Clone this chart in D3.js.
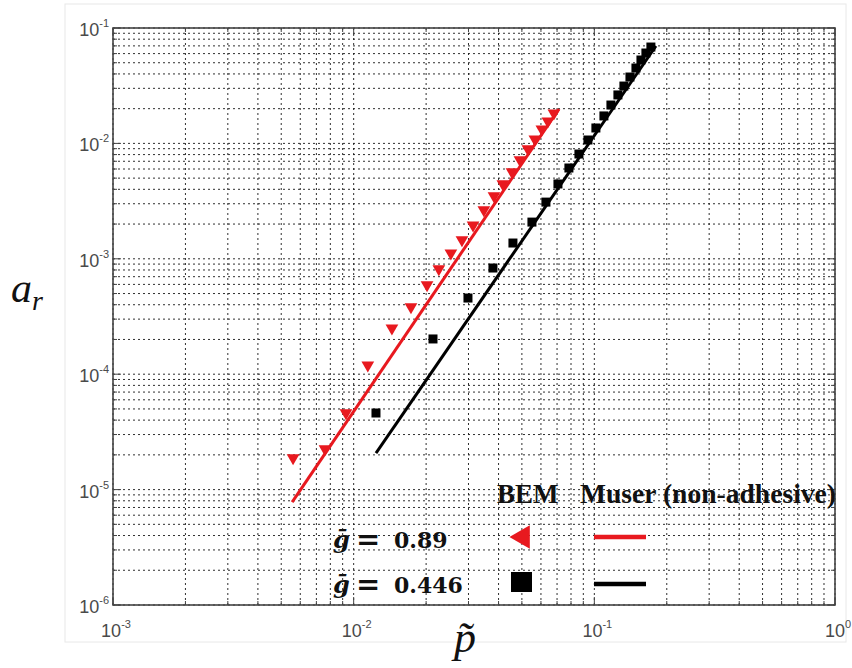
<!DOCTYPE html>
<html><head><meta charset="utf-8">
<script src="https://cdn.jsdelivr.net/npm/d3@7"></script>
<style>body{margin:0;background:#fff}svg{display:block}</style>
</head><body><svg id="c" width="852" height="668"></svg>
<script>
// ---- data ----
const xDomain = [1e-3, 1];
const yDomain = [1e-6, 1e-1];
const xTickExps = [-3, -2, -1, 0];
const yTickExps = [-6, -5, -4, -3, -2, -1];

// BEM, g = 0.89 (red triangles)
const bemRedX = [0.0056, 0.0076, 0.00929, 0.01145, 0.01442, 0.0173, 0.02018, 0.02259, 0.02535, 0.02818, 0.03134, 0.03475, 0.03828, 0.04167, 0.0455, 0.04909, 0.05297, 0.05662, 0.06053, 0.06412, 0.06792];
const bemRedY = [1.88e-5, 2.25e-5, 4.61e-5, 1.20e-4, 2.51e-4, 3.82e-4, 5.93e-4, 8.16e-4, 1.12e-3, 1.46e-3, 1.96e-3, 2.65e-3, 3.50e-3, 4.45e-3, 5.65e-3, 7.18e-3, 8.94e-3, 1.09e-2, 1.33e-2, 1.56e-2, 1.83e-2];
// BEM, g = 0.446 (black squares)
const bemBlackX = [0.01238, 0.02136, 0.02985, 0.03791, 0.0459, 0.05505, 0.06293, 0.0706, 0.07841, 0.0863, 0.09406, 0.1015, 0.1096, 0.1172, 0.1253, 0.1327, 0.1406, 0.1489, 0.1562, 0.1638, 0.1718];
const bemBlackY = [4.61e-5, 2.02e-4, 4.57e-4, 8.32e-4, 1.37e-3, 2.08e-3, 3.10e-3, 4.45e-3, 6.12e-3, 8.09e-3, 1.07e-2, 1.36e-2, 1.73e-2, 2.15e-2, 2.63e-2, 3.14e-2, 3.76e-2, 4.50e-2, 5.28e-2, 6.07e-2, 6.84e-2];
// Muser (non-adhesive) lines
const muserRedX = [0.00555, 0.0713];
const muserRedY = [7.8e-6, 0.01986];
const muserBlackX = [0.01238, 0.1803];
const muserBlackY = [2.07e-5, 0.0698];

const legendCols = ["BEM", "Muser (non-adhesive)"];
const legendRows = [{label: "0.89", color: "#e8191f", marker: "triangle"}, {label: "0.446", color: "#000000", marker: "square"}];

// ---- drawing ----
const svg = d3.select("#c");
const L = 113, R = 835, T = 28, B = 605;
const x = d3.scaleLog().domain(xDomain).range([L, R]);
const y = d3.scaleLog().domain(yDomain).range([B, T]);

// faint outer frame
svg.append("rect").attr("x", 65).attr("y", 4).attr("width", 781).attr("height", 638)
  .attr("fill", "none").attr("stroke", "#e8e8e8").attr("stroke-width", 1);

const g = svg.append("g");
const xt = x.ticks(), yt = y.ticks();
// grid
g.selectAll(".gx").data(xt).join("line")
  .attr("x1", d => x(d)).attr("x2", d => x(d)).attr("y1", T).attr("y2", B)
  .attr("stroke", "#1a1a1a").attr("stroke-width", 1).attr("stroke-dasharray", "2,3").attr("opacity", 0.9);
g.selectAll(".gy").data(yt).join("line")
  .attr("y1", d => y(d)).attr("y2", d => y(d)).attr("x1", L).attr("x2", R)
  .attr("stroke", "#1a1a1a").attr("stroke-width", 1).attr("stroke-dasharray", "2,3").attr("opacity", 0.9);

// axes with inward ticks
const isMajor = d => Math.abs(Math.log10(d) - Math.round(Math.log10(d))) < 1e-9;
const tickLen = d => isMajor(d) ? 8 : 4;
const ax = svg.append("g").attr("stroke", "#444").attr("stroke-width", 1);
xt.forEach(d => {
  ax.append("line").attr("x1", x(d)).attr("x2", x(d)).attr("y1", B).attr("y2", B - tickLen(d));
  ax.append("line").attr("x1", x(d)).attr("x2", x(d)).attr("y1", T).attr("y2", T + tickLen(d));
});
yt.forEach(d => {
  ax.append("line").attr("y1", y(d)).attr("y2", y(d)).attr("x1", L).attr("x2", L + tickLen(d));
  ax.append("line").attr("y1", y(d)).attr("y2", y(d)).attr("x1", R).attr("x2", R - tickLen(d));
});
svg.append("rect").attr("x", L).attr("y", T).attr("width", R - L).attr("height", B - T)
  .attr("fill", "none").attr("stroke", "#444").attr("stroke-width", 1.6);

// tick labels
const tf = "'Liberation Sans', Arial, sans-serif";
xTickExps.forEach(e => {
  const t = svg.append("text").attr("x", x(Math.pow(10, e)) + 3).attr("y", 637)
    .attr("text-anchor", "middle").attr("font-family", tf).attr("font-size", 18).attr("fill", "#4a4a4a");
  t.append("tspan").text("10");
  t.append("tspan").attr("font-size", 11).attr("dy", -9).text(String(e));
});
yTickExps.forEach(e => {
  const t = svg.append("text").attr("x", 109).attr("y", y(Math.pow(10, e)) + 8)
    .attr("text-anchor", "end").attr("font-family", tf).attr("font-size", 18).attr("fill", "#4a4a4a");
  t.append("tspan").text("10");
  t.append("tspan").attr("font-size", 11).attr("dy", -9).text(String(e));
});

// lines
const line = d3.line().x(d => x(d[0])).y(d => y(d[1]));
svg.append("path").datum(d3.zip(muserRedX, muserRedY)).attr("d", line)
  .attr("fill", "none").attr("stroke", "#e8191f").attr("stroke-width", 3);
svg.append("path").datum(d3.zip(muserBlackX, muserBlackY)).attr("d", line)
  .attr("fill", "none").attr("stroke", "#000").attr("stroke-width", 3);

// markers
const tri = d3.symbol().type(d3.symbolTriangle).size(70);
svg.append("g").selectAll("path").data(d3.zip(bemRedX, bemRedY)).join("path")
  .attr("d", tri).attr("fill", "#e8191f")
  .attr("transform", d => `translate(${x(d[0])},${y(d[1])}) rotate(180)`);
svg.append("g").selectAll("rect").data(d3.zip(bemBlackX, bemBlackY)).join("rect")
  .attr("x", d => x(d[0]) - 4.5).attr("y", d => y(d[1]) - 4.5).attr("width", 9).attr("height", 9).attr("fill", "#000");

// legend
const lf = "'Liberation Serif', 'Times New Roman', serif";
svg.append("text").attr("x", 497).attr("y", 503).attr("font-family", lf).attr("font-weight", "bold")
  .attr("font-size", 27).attr("fill", "#111").text(legendCols[0]);
svg.append("text").attr("x", 580).attr("y", 503).attr("font-family", lf).attr("font-weight", "bold")
  .attr("font-size", 27).attr("fill", "#111").attr("textLength", 256).attr("lengthAdjust", "spacingAndGlyphs").text(legendCols[1]);

const mf = "'DejaVu Serif', 'Liberation Serif', serif";
const rowY = [537, 582];
legendRows.forEach((r, i) => {
  const by = rowY[i] + 11;
  svg.append("text").attr("x", 333).attr("y", by).attr("font-family", mf).attr("font-weight", "bold")
    .attr("font-style", "italic").attr("font-size", 24).attr("fill", "#111").text("\u1E21");
  svg.append("text").attr("x", 356).attr("y", by + 1).attr("font-family", mf).attr("font-weight", "bold")
    .attr("font-size", 29).attr("fill", "#111").text("=");
  svg.append("text").attr("x", 394).attr("y", by).attr("font-family", mf).attr("font-weight", "bold")
    .attr("font-size", 22).attr("fill", "#111").text(r.label);
  if (r.marker === "triangle") {
    svg.append("path").attr("d", d3.symbol().type(d3.symbolTriangle).size(240))
      .attr("transform", `translate(523,${rowY[i]}) rotate(-90)`).attr("fill", r.color);
  } else {
    svg.append("rect").attr("x", 511).attr("y", rowY[i] - 10).attr("width", 21).attr("height", 20).attr("fill", r.color);
  }
  svg.append("line").attr("x1", 594).attr("x2", 646).attr("y1", rowY[i] + (i ? 2 : 0)).attr("y2", rowY[i] + (i ? 2 : 0))
    .attr("stroke", r.color).attr("stroke-width", 4.5);
});

// axis titles
const ya = svg.append("text").attr("x", 11).attr("y", 302).attr("font-family", lf).attr("font-style", "italic")
  .attr("font-size", 42).attr("fill", "#111");
ya.append("tspan").text("a");
ya.append("tspan").attr("font-size", 28).attr("dy", 8).text("r");
svg.append("text").attr("x", 454).attr("y", 652).attr("font-family", lf).attr("font-style", "italic")
  .attr("font-size", 44).attr("fill", "#111").text("p\u0303");
</script></body></html>
